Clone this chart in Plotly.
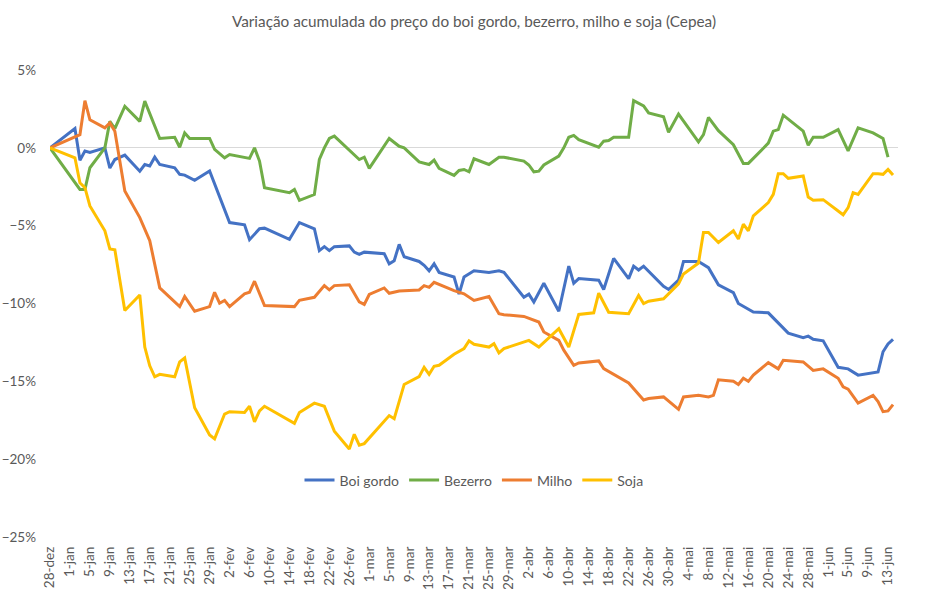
import plotly.graph_objects as go
import pandas as pd

# Base date (first observation) and day offsets per series
data_base = "2023-12-28"

boi_dias = [0, 5, 6, 7, 8, 11, 12, 13, 15, 18, 19, 20, 21, 22, 25, 26, 27, 29, 32, 36,
            39, 40, 42, 43, 48, 50, 53, 54, 55, 56, 57, 60, 61, 62, 63, 67, 68, 69, 70, 71,
            74, 75, 76, 77, 78, 81, 82, 83, 85, 88, 90, 91, 95, 96, 97, 99, 102, 104, 105, 106,
            110, 111, 113, 116, 117, 118, 119, 123, 124, 126, 127, 130, 132, 134, 137, 138, 141, 144, 148, 151,
            152, 153, 155, 158, 160, 162, 166, 167, 168, 169]
boi_var = [0.0, 1.24, -0.8, -0.2, -0.3, 0.0, -1.3, -0.75, -0.47, -1.5, -1.07, -1.17, -0.6, -1.07, -1.28, -1.7, -1.75, -2.09, -1.49, -4.8,
           -4.95, -5.9, -5.2, -5.16, -5.88, -4.8, -5.2, -6.6, -6.35, -6.6, -6.35, -6.3, -6.7, -6.85, -6.7, -6.8, -7.45, -7.25, -6.2, -7.0,
           -7.3, -7.55, -7.9, -7.45, -8.0, -8.3, -9.4, -8.3, -7.9, -8.0, -7.9, -8.0, -9.6, -9.4, -9.9, -8.7, -10.5, -7.6, -8.7, -8.4,
           -8.5, -9.1, -7.1, -8.4, -7.6, -7.85, -7.6, -8.9, -9.1, -8.5, -7.3, -7.3, -7.7, -8.8, -9.3, -10.0, -10.55, -10.6, -11.9, -12.2,
           -12.1, -12.3, -12.4, -14.1, -14.2, -14.6, -14.4, -13.1, -12.6, -12.3]

bezerro_dias = [0, 6, 7, 8, 11, 12, 13, 15, 18, 19, 22, 25, 26, 27, 28, 32, 33, 35, 36, 40,
                41, 42, 43, 48, 49, 50, 53, 54, 55, 56, 57, 62, 63, 64, 68, 70, 71, 74, 76, 77,
                78, 81, 82, 83, 84, 85, 88, 90, 91, 95, 96, 97, 98, 99, 102, 103, 104, 105, 106, 110,
                111, 112, 113, 116, 117, 119, 120, 123, 124, 126, 130, 131, 132, 134, 137, 139, 140, 144, 145, 146,
                147, 151, 152, 153, 155, 158, 160, 162, 165, 167, 168]
bezerro_var = [0.0, -2.67, -2.67, -1.28, 0.0, 1.7, 1.24, 2.67, 1.7, 3.0, 0.6, 0.68, 0.04, 0.96, 0.6, 0.6, -0.1, -0.64, -0.43, -0.68,
               0.0, -0.85, -2.56, -2.88, -2.67, -3.37, -3.0, -0.75, 0.0, 0.6, 0.75, -0.75, -0.6, -1.32, 0.6, 0.1, 0.0, -0.9, -1.07, -0.79,
               -1.32, -1.77, -1.45, -1.39, -1.54, -0.7, -1.07, -0.6, -0.6, -0.85, -1.1, -1.54, -1.5, -1.1, -0.53, 0.0, 0.68, 0.8, 0.53, 0.04,
               0.43, 0.47, 0.68, 0.68, 3.03, 2.7, 2.24, 2.0, 1.0, 2.17, 0.38, 0.85, 1.96, 1.1, 0.2, -1.0, -1.0, 0.3, 1.07, 1.17,
               2.1, 1.07, 0.17, 0.68, 0.68, 1.17, -0.2, 1.28, 0.96, 0.6, -0.6]

milho_dias = [0, 6, 7, 8, 11, 12, 13, 15, 18, 20, 22, 26, 27, 29, 32, 33, 34, 35, 36, 39,
              40, 41, 43, 49, 50, 53, 55, 56, 57, 60, 62, 63, 64, 67, 68, 70, 74, 75, 76, 77,
              81, 83, 85, 88, 90, 91, 95, 97, 98, 99, 102, 103, 105, 106, 110, 111, 116, 119, 120, 123,
              126, 127, 130, 132, 133, 134, 137, 138, 139, 140, 141, 144, 146, 147, 151, 153, 155, 158, 159, 160,
              162, 165, 166, 167, 168, 169]
milho_var = [0.0, 0.85, 3.03, 1.8, 1.28, 1.6, 1.07, -2.77, -4.48, -5.97, -9.0, -10.2, -9.55, -10.5, -10.2, -9.28, -9.98, -9.8, -10.2, -9.38,
             -9.28, -8.57, -10.13, -10.2, -9.8, -9.6, -8.85, -9.12, -8.85, -8.8, -9.9, -10.06, -9.42, -9.0, -9.34, -9.2, -9.13, -8.85, -8.96, -8.64,
             -9.17, -9.38, -9.8, -9.55, -10.66, -10.72, -10.83, -11.09, -11.19, -11.83, -12.37, -13.0, -13.97, -13.82, -13.69, -14.18, -15.1, -16.2, -16.1, -16.0,
             -16.8, -16.0, -15.9, -16.0, -15.9, -14.9, -15.0, -15.2, -14.8, -15.0, -14.6, -13.8, -14.2, -13.65, -13.75, -14.3, -14.2, -14.8, -15.35, -15.5,
             -16.4, -15.9, -16.3, -16.95, -16.9, -16.5]

soja_dias = [0, 5, 6, 7, 8, 11, 12, 13, 15, 18, 19, 20, 21, 22, 25, 26, 27, 29, 32, 33,
             35, 36, 39, 40, 41, 42, 43, 49, 50, 53, 55, 57, 60, 61, 62, 63, 68, 69, 71, 74,
             75, 76, 77, 78, 81, 83, 84, 85, 88, 89, 90, 91, 96, 98, 102, 104, 106, 109, 110, 112,
             116, 118, 119, 120, 123, 126, 127, 130, 131, 132, 134, 137, 138, 139, 140, 141, 144, 145, 146, 147,
             148, 151, 152, 153, 155, 159, 160, 161, 162, 165, 166, 167, 168, 169]
soja_var = [0.0, -0.64, -2.24, -2.56, -3.73, -5.33, -6.5, -6.55, -10.45, -9.45, -12.8, -14.0, -14.71, -14.55, -14.71, -13.75, -13.5, -16.7, -18.45, -18.7,
            -17.1, -16.95, -17.0, -16.6, -17.6, -16.9, -16.6, -17.7, -17.0, -16.4, -16.6, -18.2, -19.35, -18.4, -19.1, -19.0, -17.2, -17.4, -15.2, -14.7,
            -14.1, -14.55, -14.03, -13.97, -13.26, -12.9, -12.4, -12.62, -12.8, -12.58, -13.18, -12.9, -12.37, -12.8, -11.62, -12.8, -10.7, -10.6, -9.34, -10.56,
            -10.66, -9.49, -10.0, -9.85, -9.7, -8.74, -8.1, -7.4, -5.44, -5.44, -6.08, -5.33, -5.86, -4.9, -5.33, -4.37, -3.52, -2.99, -1.66, -1.66,
            -1.96, -1.81, -3.16, -3.37, -3.33, -4.3, -3.84, -2.88, -2.99, -1.66, -1.66, -1.7, -1.39, -1.75]

series_nomes = ["Boi gordo", "Bezerro", "Milho", "Soja"]
series_cores = ["#4472C4", "#70AD47", "#ED7D31", "#FFC000"]
meses = ["jan", "fev", "mar", "abr", "mai", "jun", "jul", "ago", "set", "out", "nov", "dez"]

base = pd.Timestamp(data_base)


def to_dates(dias):
    return [base + pd.Timedelta(days=d) for d in dias]


fig = go.Figure()
for nome, cor, dias, vals in zip(series_nomes, series_cores,
                                 [boi_dias, bezerro_dias, milho_dias, soja_dias],
                                 [boi_var, bezerro_var, milho_var, soja_var]):
    fig.add_trace(go.Scatter(x=to_dates(dias), y=vals, mode="lines", name=nome,
                             line=dict(color=cor, width=3)))

tick_datas = pd.date_range(base, "2024-06-13", freq="4D")
tick_textos = [f"{d.day}-{meses[d.month - 1]}" for d in tick_datas]

font_family = "Lato, 'Open Sans', sans-serif"
fig.update_layout(
    width=948, height=589,
    paper_bgcolor="white", plot_bgcolor="white",
    margin=dict(l=50, r=50, t=70, b=52),
    font=dict(family=font_family, color="#595959", size=13),
    title=dict(text="Variação acumulada do preço do boi gordo, bezerro, milho e soja (Cepea)",
               x=0.5, xanchor="center", y=1 - 22 / 589, yanchor="middle", yref="container",
               font=dict(size=15.3, color="#595959", family=font_family)),
    showlegend=True,
    legend=dict(orientation="h", x=0.5, xanchor="center", y=0.121, yanchor="middle",
                bgcolor="rgba(0,0,0,0)", font=dict(size=14, color="#595959"),
                itemwidth=30, tracegroupgap=0),
    xaxis=dict(type="date", range=[base, pd.Timestamp("2024-06-15")],
               tickmode="array", tickvals=list(tick_datas), ticktext=tick_textos,
               tickangle=-90, showgrid=False, zeroline=False, showline=False, automargin=False,
               ticks="", ticklabelstandoff=6, tickfont=dict(size=13.5, color="#595959")),
    yaxis=dict(range=[-25, 5], dtick=5, tick0=0, ticksuffix="%", showgrid=False,
               zeroline=True, zerolinecolor="#D9D9D9", zerolinewidth=1, automargin=False,
               showline=False, ticks="", ticklabelstandoff=13,
               tickfont=dict(size=13.5, color="#595959")),
)

fig.write_html("out.html")
